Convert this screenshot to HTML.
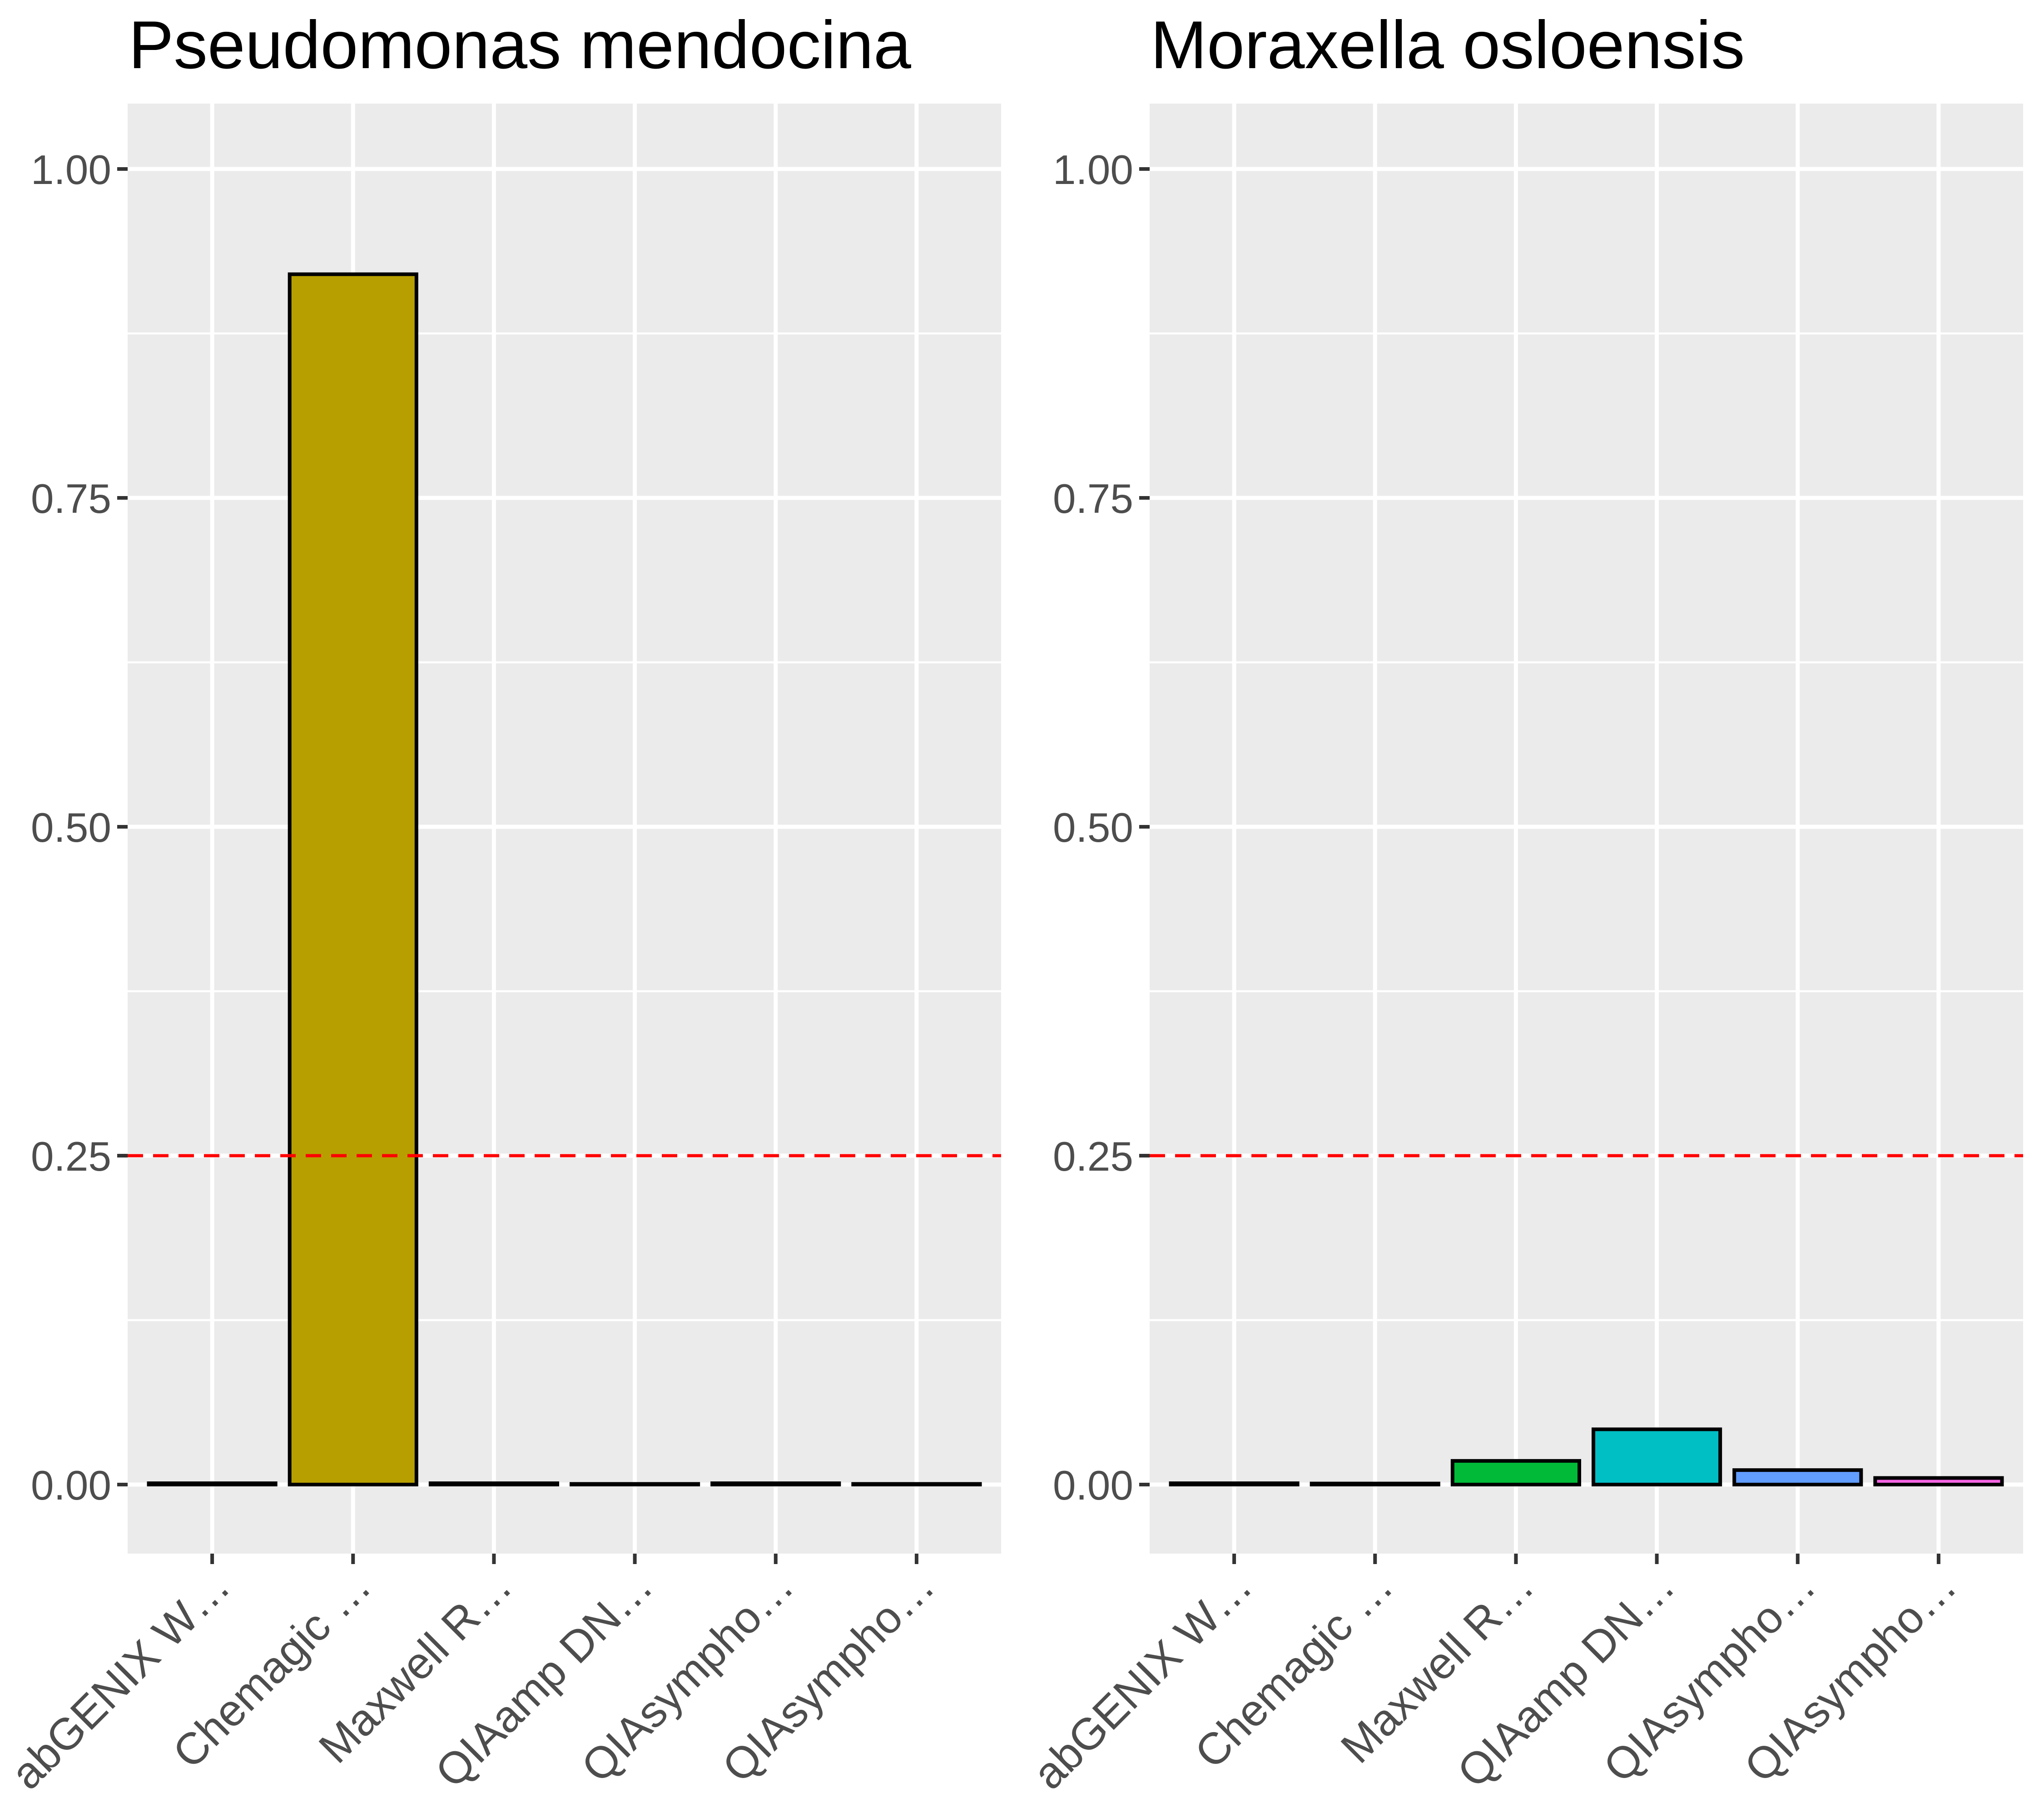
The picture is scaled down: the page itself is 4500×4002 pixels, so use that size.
<!DOCTYPE html>
<html><head><meta charset="utf-8"><style>
html,body{margin:0;padding:0;background:#fff;}
svg{display:block;font-family:"Liberation Sans",sans-serif;}
</style></head><body>
<svg id="chart" width="4500" height="4002" viewBox="0 0 4500 4002" xmlns="http://www.w3.org/2000/svg"></svg>
<script>
const categories = ["abGENIX W…","Chemagic …","Maxwell R…","QIAamp DN…","QIAsympho…","QIAsympho…"];
const panelTitles = ["Pseudomonas mendocina","Moraxella osloensis"];
const valuesPseudomonas = [0.001, 0.92, 0.001, 0.0005, 0.001, 0.0005];
const valuesMoraxella = [0.001, 0.0008, 0.018, 0.042, 0.011, 0.005];
const barColors = ["#F8766D","#B79F00","#00BA38","#00BFC4","#619CFF","#F564E3"];
const yTicks = [0, 0.25, 0.5, 0.75, 1.0];
const yTickLabels = ["0.00","0.25","0.50","0.75","1.00"];
const yMinor = [0.125, 0.375, 0.625, 0.875];
const threshold = 0.25;

const NS = "http://www.w3.org/2000/svg";
const svg = document.getElementById("chart");
function mk(tag, attrs, parent){ const e=document.createElementNS(NS,tag); for(const k in attrs) e.setAttribute(k,attrs[k]); (parent||svg).appendChild(e); return e; }

const panelTop = 228, panelBottom = 3420;
const y0 = 3268, y1 = 372;
function yScale(v){ return y0 + (y1 - y0) * v; }
const panels = [{x0:281, x1:2204, vals:valuesPseudomonas}, {x0:2531, x1:4454, vals:valuesMoraxella}];

panels.forEach((p, pi) => {
  const g = mk("g", {});
  
  
  const step = (p.x1 - p.x0) / (categories.length + 0.2);
  function xScale(i){ return p.x0 + (i + 0.6) * step; }
  const bg = mk("rect", {x:p.x0, y:panelTop, width:p.x1-p.x0, height:panelBottom-panelTop, fill:"#EBEBEB"}, g);
  
  
  yMinor.forEach(v => {
    const l = mk("line", {x1:p.x0, x2:p.x1, y1:yScale(v), y2:yScale(v), stroke:"#fff", "stroke-width":4.5}, g);
    
    
  });
  yTicks.forEach((v, i) => {
    const l = mk("line", {x1:p.x0, x2:p.x1, y1:yScale(v), y2:yScale(v), stroke:"#fff", "stroke-width":9}, g);
    
    
    const t = mk("line", {x1:p.x0-23, x2:p.x0, y1:yScale(v), y2:yScale(v), stroke:"#333", "stroke-width":8}, g);
    
    
    const tx = mk("text", {x:p.x0-36, y:yScale(v)+33, "text-anchor":"end", "font-size":91, fill:"#4D4D4D"}, g);
    tx.textContent = yTickLabels[i];
    
    
  });
  categories.forEach((c, i) => {
    const x = xScale(i);
    const l = mk("line", {x1:x, x2:x, y1:panelTop, y2:panelBottom, stroke:"#fff", "stroke-width":9}, g);
    
    
  });
  categories.forEach((c, i) => {
    const x = xScale(i);
    const bw = step * 0.9;
    const v = p.vals[i];
    const top = yScale(v);
    const b = mk("rect", {x:x-bw/2, y:top, width:bw, height:Math.max(y0-top,0.5), fill:barColors[i], stroke:"#000", "stroke-width":8}, g);
    
    
    const t = mk("line", {x1:x, x2:x, y1:panelBottom, y2:panelBottom+23, stroke:"#333", "stroke-width":8}, g);
    
    
    const lx = x + 45, ly = panelBottom + 78;
    const tx = mk("text", {x:lx, y:ly, "text-anchor":"end", "font-size":98, fill:"#4D4D4D", transform:"rotate(-45 "+lx+" "+ly+")"}, g);
    tx.textContent = c;
    
    
  });
  const d = mk("line", {x1:p.x0, x2:p.x1, y1:yScale(threshold), y2:yScale(threshold), stroke:"#FF0000", "stroke-width":7, "stroke-dasharray":"34 22"}, g);
  
  
  const ti = mk("text", {x:p.x0+2, y:150, "font-size":149, fill:"#000"}, g);
  ti.textContent = panelTitles[pi];
  
  
});
</script>
</body></html>
